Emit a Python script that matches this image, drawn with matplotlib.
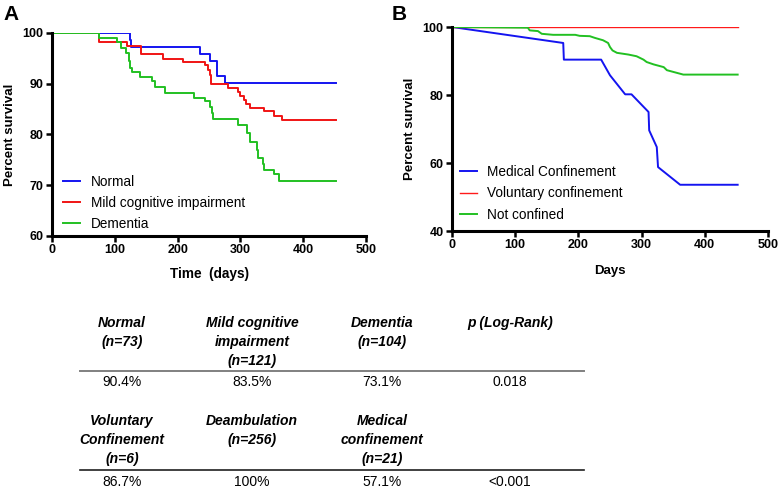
import matplotlib
matplotlib.use('Agg')
import matplotlib.pyplot as plt
from matplotlib.lines import Line2D

plt.rcParams['font.family'] = ['Liberation Sans', 'DejaVu Sans']

# panel A: survival by cognitive status (step curves)
normal_t = [0, 124, 126, 235, 251, 263, 275, 453]
normal_s = [100, 98.7, 97.3, 95.9, 94.5, 91.6, 90.1, 90.1]
mci_t = [0, 75, 120, 141, 176, 208, 244, 248, 251, 253, 280, 296, 299, 305,
         309, 315, 338, 353, 366, 453]
mci_s = [100, 98.3, 97.5, 95.9, 94.9, 94.2, 93.7, 92.8, 91.8, 89.9, 89.1, 88.4,
         87.6, 86.8, 86.1, 85.3, 84.6, 83.7, 82.9, 82.9]
dem_t = [0, 75, 104, 110, 118, 122, 124, 128, 140, 159, 164, 180, 226, 244, 252,
         255, 257, 296, 311, 315, 326, 328, 336, 337, 353, 362, 453]
dem_s = [100, 99.1, 98.2, 97.0, 96.1, 94.4, 93.1, 92.4, 91.3, 90.5, 89.3, 88.2,
         87.2, 86.6, 85.5, 84.2, 83.0, 81.9, 80.3, 78.6, 77.0, 75.3, 74.1, 73.0,
         72.2, 70.9, 70.9]

# panel B: survival by confinement
med_t = [0, 176, 177, 236, 250, 274, 284, 311, 312, 324, 326, 361, 452]
med_s = [100, 95.3, 90.4, 90.4, 85.8, 80.2, 80.2, 75.0, 69.6, 64.7, 58.8, 53.6, 53.6]
vol_t = [0, 452]
vol_s = [100, 100]
nc_t = [0, 120, 123, 136, 142, 160, 195, 202, 218, 226, 239, 247, 250, 254, 261,
        279, 292, 303, 308, 319, 335, 340, 356, 366, 452]
nc_s = [100, 99.8, 99.0, 98.8, 98.0, 97.7, 97.7, 97.4, 97.3, 96.8, 96.1, 95.3,
        94.1, 93.1, 92.4, 91.9, 91.4, 90.4, 89.7, 89.0, 88.2, 87.3, 86.5, 86.0, 86.0]

# table below the plots
head1 = ['Normal\n(n=73)', 'Mild cognitive\nimpairment\n(n=121)', 'Dementia\n(n=104)', 'p (Log-Rank)\n\n']
vals1 = ['90.4%', '83.5%', '73.1%', '0.018']
head2 = ['Voluntary\nConfinement\n(n=6)', 'Deambulation\n(n=256)\n', 'Medical\nconfinement\n(n=21)']
vals2 = ['86.7%', '100%', '57.1%', '<0.001']

blue = '#1414f0'
red = '#f01414'
green = '#22c022'

fig = plt.figure(figsize=(7.78, 4.9), dpi=100)
W, H = 778.0, 490.0


def style(ax):
    for s in ['top', 'right']:
        ax.spines[s].set_visible(False)
    for s in ['left', 'bottom']:
        ax.spines[s].set_linewidth(2.2)
    ax.tick_params(direction='out', length=4, width=1.8, labelsize=9, pad=2)
    for lab in ax.get_xticklabels() + ax.get_yticklabels():
        lab.set_fontweight('bold')


axA = fig.add_axes([52 / W, 1 - 236 / H, 314 / W, 203 / H])
axA.step(normal_t, normal_s, where='post', color=blue, lw=1.4, label='Normal')
axA.step(mci_t, mci_s, where='post', color=red, lw=1.4, label='Mild cognitive impairment')
axA.step(dem_t, dem_s, where='post', color=green, lw=1.4, label='Dementia')
axA.set_xlim(0, 500)
axA.set_ylim(60, 100)
axA.set_xticks(range(0, 501, 100))
axA.set_yticks(range(60, 101, 10))
style(axA)
axA.set_xlabel('Time  (days)', fontsize=9.8, fontweight='bold', labelpad=8)
axA.set_ylabel('Percent survival', fontsize=9.5, fontweight='bold', labelpad=5)
axA.legend(loc='lower left', bbox_to_anchor=(-0.005, -0.035), frameon=False, fontsize=9.8,
           handlelength=1.3, handletextpad=0.75, labelspacing=0.5)

axB = fig.add_axes([452 / W, 1 - 231 / H, 316 / W, 204 / H])
axB.plot(med_t, med_s, color=blue, lw=1.4, label='Medical Confinement')
axB.plot(vol_t, vol_s, color='#ff1a1a', lw=1.0, label='Voluntary confinement')
axB.plot(nc_t, nc_s, color=green, lw=1.4, label='Not confined')
axB.set_xlim(0, 500)
axB.set_ylim(40, 100)
axB.set_xticks(range(0, 501, 100))
axB.set_yticks(range(40, 101, 20))
style(axB)
axB.set_xlabel('Days', fontsize=9.5, fontweight='bold', labelpad=10)
axB.set_ylabel('Percent survival', fontsize=9.5, fontweight='bold', labelpad=5)
axB.legend(loc='lower left', bbox_to_anchor=(-0.015, -0.015), frameon=False, fontsize=9.8,
           handlelength=1.3, handletextpad=0.75, labelspacing=0.55)

fig.text(3 / W, 1 - 14 / H, 'A', fontsize=15, fontweight='bold', va='center', ha='left')
fig.text(392 / W, 1 - 14 / H, 'B', fontsize=15, fontweight='bold', va='center', ha='left')

# table
cols = [122, 252, 382, 510]
for i, h in enumerate(head1):
    fig.text(cols[i] / W, 1 - 316 / H, h, fontsize=10, fontweight='bold', style='italic',
             ha='center', va='top', linespacing=1.45)
for i, v in enumerate(vals1):
    fig.text(cols[i] / W, 1 - 382 / H, v, fontsize=10, ha='center', va='center')
for i, h in enumerate(head2):
    fig.text(cols[i] / W, 1 - 414 / H, h, fontsize=10, fontweight='bold', style='italic',
             ha='center', va='top', linespacing=1.45)
for i, v in enumerate(vals2):
    fig.text(cols[i] / W, 1 - 482 / H, v, fontsize=10, ha='center', va='center')

fig.add_artist(Line2D([80 / W, 584 / W], [1 - 371 / H] * 2, color='#808080', lw=1.4))
fig.add_artist(Line2D([80 / W, 584 / W], [1 - 470 / H] * 2, color='#202020', lw=1.2))

fig.savefig('out.png', dpi=100)
